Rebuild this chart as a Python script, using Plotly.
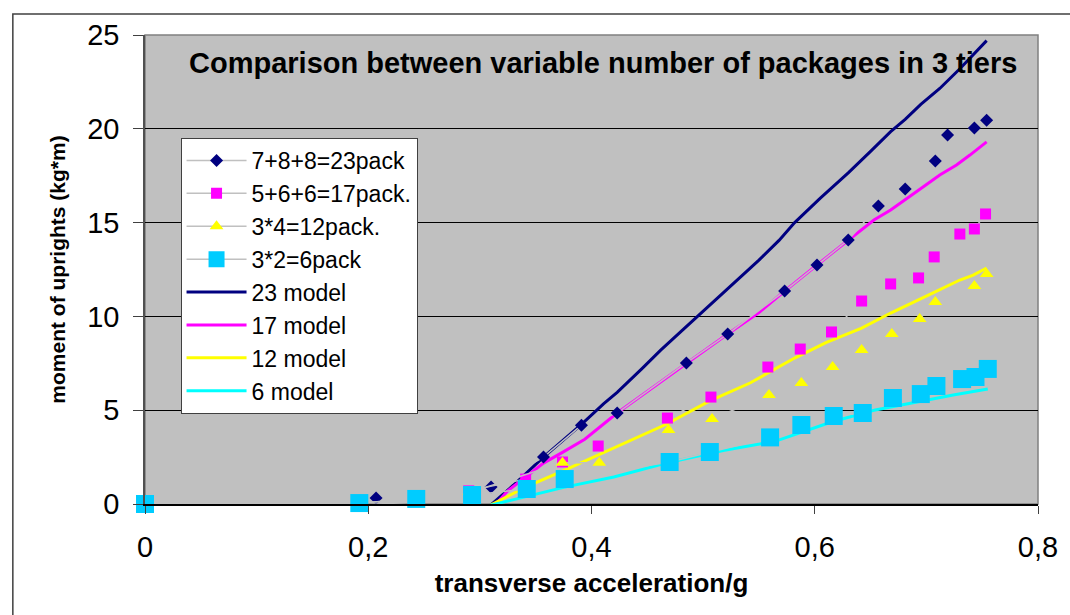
import plotly.graph_objects as go

# Measured moments for each loading case (transverse acceleration / g, moment kg*m)
x_23pack = [0, 0.207, 0.31, 0.357, 0.391, 0.423, 0.485, 0.522, 0.573, 0.602, 0.630,
            0.657, 0.681, 0.708, 0.719, 0.743, 0.754]
y_23pack = [0, 0.32, 0.9, 2.5, 4.2, 4.85, 7.52, 9.06, 11.35, 12.74, 14.07,
            15.88, 16.79, 18.28, 19.67, 20.04, 20.45]

x_17pack = [0, 0.192, 0.243, 0.29, 0.341, 0.374, 0.406, 0.468, 0.507, 0.558, 0.587,
            0.615, 0.642, 0.668, 0.693, 0.707, 0.730, 0.743, 0.753]
y_17pack = [0, 0.05, 0.27, 0.7, 1.33, 2.24, 3.09, 4.58, 5.70, 7.30, 8.26,
            9.17, 10.82, 11.73, 12.05, 13.17, 14.39, 14.66, 15.46]

x_12pack = [0, 0.192, 0.243, 0.29, 0.374, 0.407, 0.469, 0.508, 0.559, 0.588, 0.616,
            0.642, 0.669, 0.694, 0.708, 0.743, 0.754]
y_12pack = [0, -0.05, 0.1, 0.6, 2.2, 2.2, 3.94, 4.53, 5.81, 6.45, 7.30,
            8.21, 9.06, 9.86, 10.77, 11.62, 12.26]

x_6pack = [0, 0.192, 0.243, 0.293, 0.342, 0.376, 0.47, 0.506, 0.56, 0.588, 0.617,
           0.643, 0.670, 0.695, 0.709, 0.732, 0.744, 0.755]
y_6pack = [0, 0.05, 0.27, 0.48, 0.8, 1.33, 2.24, 2.77, 3.55, 4.21, 4.69,
           4.85, 5.65, 5.86, 6.29, 6.66, 6.77, 7.20]

# Model predictions
x_23model = [0.305, 0.33, 0.357, 0.376, 0.391, 0.411, 0.423, 0.445, 0.462, 0.482, 0.493,
             0.515, 0.535, 0.55, 0.568, 0.582, 0.605, 0.630, 0.650, 0.668, 0.681,
             0.695, 0.712, 0.73, 0.754]
y_23model = [-0.3, 1.0, 2.5, 3.45, 4.25, 5.35, 5.95, 7.2, 8.2, 9.3, 9.9,
             11.1, 12.2, 13.0, 14.05, 15.0, 16.3, 17.65, 18.8, 19.85, 20.5,
             21.3, 22.15, 23.2, 24.7]

x_17model = [0.31, 0.325, 0.341, 0.357, 0.374, 0.394, 0.423, 0.45, 0.485, 0.522, 0.55,
             0.573, 0.602, 0.630, 0.653, 0.668, 0.681, 0.697, 0.712, 0.727, 0.739, 0.754]
y_17model = [-0.3, 0.7, 1.44, 2.18, 2.75, 3.45, 4.85, 6.0, 7.52, 9.06, 10.2,
             11.35, 12.74, 14.07, 15.14, 15.67, 16.2, 16.9, 17.54, 18.07, 18.6, 19.3]

x_12model = [0.305, 0.341, 0.376, 0.4, 0.438, 0.467, 0.506, 0.542, 0.582, 0.61, 0.642,
             0.668, 0.706, 0.730, 0.742, 0.754]
y_12model = [-0.2, 0.9, 1.8, 2.45, 3.45, 4.25, 5.5, 6.45, 7.78, 8.6, 9.38,
             10.18, 11.25, 11.94, 12.2, 12.58]

x_6model = [0.29, 0.341, 0.376, 0.42, 0.467, 0.518, 0.565, 0.615, 0.653, 0.701, 0.724, 0.755]
y_6model = [-0.35, 0.37, 0.9, 1.44, 2.18, 2.85, 3.35, 4.37, 5.0, 5.54, 5.81, 6.13]

x_ticks = [0, 0.2, 0.4, 0.6, 0.8]
y_ticks = [0, 5, 10, 15, 20, 25]

FONT = "Liberation Sans, Arial, sans-serif"
BG = "#C0C0C0"

fig = go.Figure()

models = [
    ("23 model", x_23model, y_23model, "#000080"),
    ("17 model", x_17model, y_17model, "#FF00FF"),
    ("12 model", x_12model, y_12model, "#FFFF00"),
    ("6 model", x_6model, y_6model, "#00FFFF"),
]
for i, (name, xs, ys, col) in enumerate(models):
    fig.add_trace(go.Scatter(
        x=xs, y=ys, name=name, mode="lines",
        line=dict(color=col, width=3),
        legendrank=500 + i,
    ))

measured = [
    ("7+8+8=23pack", x_23pack, y_23pack, "diamond", 10, "#000080"),
    ("5+6+6=17pack.", x_17pack, y_17pack, "square", 11, "#FF00FF"),
    ("3*4=12pack.", x_12pack, y_12pack, "triangle-up", 12, "#FFFF00"),
    ("3*2=6pack", x_6pack, y_6pack, "square", 18, "#00CCFF"),
]
for i, (name, xs, ys, sym, size, col) in enumerate(measured):
    fig.add_trace(go.Scatter(
        x=xs, y=ys, name=name, mode="lines+markers",
        line=dict(color=BG, width=1.5),
        marker=dict(symbol=sym, size=size, color=col, line=dict(width=0)),
        cliponaxis=False,
        legendrank=100 + i,
    ))

fig.update_layout(
    width=1070, height=615,
    margin=dict(l=145, r=21, t=35, b=111),
    paper_bgcolor="white",
    plot_bgcolor=BG,
    separators=",.",
    font=dict(family=FONT, color="black"),
    showlegend=True,
    legend=dict(
        x=0.0398, y=0.7804, xanchor="left", yanchor="top",
        bgcolor="white", bordercolor="#404040", borderwidth=1,
        font=dict(family=FONT, size=23, color="black"),
        itemwidth=60,
        traceorder="normal",
    ),
    xaxis=dict(
        range=[0, 0.8], tickvals=x_ticks,
        showgrid=False, zeroline=False,
        showline=True, linecolor="black", linewidth=1.5,
        ticks="outside", ticklen=8, tickcolor="#404040",
        ticklabelstandoff=8,
        tickfont=dict(family=FONT, size=29),
        title=dict(text="<b>transverse acceleration/g</b>",
                   font=dict(family=FONT, size=26), standoff=12),
    ),
    yaxis=dict(
        range=[0, 25], tickvals=y_ticks,
        showgrid=True, gridcolor="black", gridwidth=1,
        zeroline=False,
        showline=True, linecolor="#505050", linewidth=1.5,
        ticks="outside", ticklen=10, tickcolor="#404040",
        ticklabelstandoff=8,
        tickfont=dict(family=FONT, size=29),
        title=dict(text="<b>moment of uprights (kg*m)</b>",
                   font=dict(family=FONT, size=21), standoff=16),
    ),
)

# plot-area border (top and right edges in lighter gray)
fig.add_shape(type="rect", xref="paper", yref="paper", x0=0, x1=1, y0=0, y1=1,
              line=dict(color="#808080", width=1.5), layer="below")
# outer chart frame
fig.add_shape(type="rect", xref="paper", yref="paper",
              x0=-0.148, x1=1.05, y0=-0.26, y1=1.0448,
              line=dict(color="#404040", width=1.5), layer="above")

fig.add_annotation(
    text="<b>Comparison between variable number of packages in 3 tiers</b>",
    xref="paper", yref="paper", x=0.513, y=0.94, xanchor="center", yanchor="middle",
    showarrow=False, font=dict(family=FONT, size=29, color="black"),
)

fig.write_html("out.html")
